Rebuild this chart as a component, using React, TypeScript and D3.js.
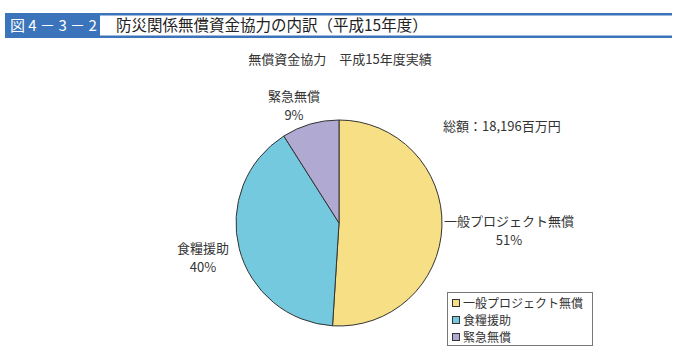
import React from "react";
import * as d3 from "d3";

const categories = ["一般プロジェクト無償", "食糧援助", "緊急無償"];
const values = [51, 40, 9];
const colors = ["#F7DF85", "#74C9DF", "#B0A9D2"];
const labelPos: [number, number][] = [
  [509, 226],
  [203, 253],
  [294, 101],
];

export default function App() {
  const W = 680, H = 354;
  const cx = 339, cy = 223, r = 103;
  const pie = d3.pie<number>().sort(null).value((d) => d)(values);
  const arc = d3.arc<d3.PieArcDatum<number>>().innerRadius(0).outerRadius(r);
  const font = "'Noto Sans CJK JP', 'Noto Sans', sans-serif";
  return (
    <svg width={W} height={H} style={{ position: "absolute", left: 0, top: 0 }} fontFamily={font}>
      <rect x={0} y={0} width={W} height={H} fill="#fff" />
      {/* header */}
      <rect x={5} y={13} width={667} height={2.5} fill="#3B74BA" />
      <rect x={5} y={35.5} width={667} height={2.5} fill="#3B74BA" />
      <rect x={5} y={13} width={95} height={25} fill="#3B74BA" />
      <text x={10} y={31} fill="#fff" fontSize={15}>図 4 － 3 － 2</text>
      <text x={116} y={31} fill="#222" fontSize={15.5}>防災関係無償資金協力の内訳（平成15年度）</text>
      <text x={340} y={64} textAnchor="middle" fontSize={13} fill="#333">無償資金協力　平成15年度実績</text>
      <text x={443} y={131} fontSize={13} fill="#333">総額：18,196百万円</text>
      <g transform={`translate(${cx},${cy})`}>
        {pie.map((p, i) => (
          <path key={i} d={arc(p) || ""} fill={colors[i]} stroke="#333" strokeWidth={1} />
        ))}
      </g>
      {categories.map((c, i) => (
        <g key={c}>
          <text x={labelPos[i][0]} y={labelPos[i][1]} textAnchor="middle" fontSize={13} fill="#333">{c}</text>
          <text x={labelPos[i][0]} y={labelPos[i][1] + 19} textAnchor="middle" fontSize={13} fill="#333">{values[i]}%</text>
        </g>
      ))}
      {/* legend */}
      <rect x={447.5} y={292.5} width={145} height={53} fill="#fff" stroke="#777" />
      {categories.map((c, i) => (
        <g key={"l" + c}>
          <rect x={452.5} y={299.5 + i * 17} width={7} height={7} fill={colors[i]} stroke="#333" />
          <text x={463} y={307.5 + i * 17} fontSize={12} fill="#333">{c}</text>
        </g>
      ))}
    </svg>
  );
}
